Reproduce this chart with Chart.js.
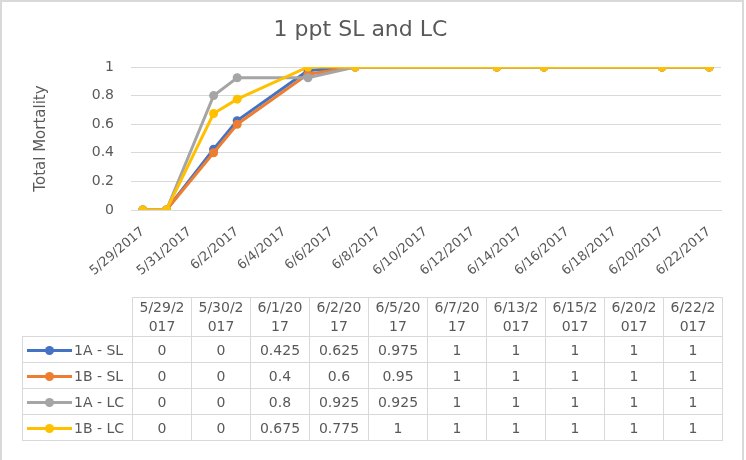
<!DOCTYPE html>
<html>
<head>
<meta charset="utf-8">
<script src="https://cdn.jsdelivr.net/npm/chart.js@4.4.0/dist/chart.umd.min.js"></script>
<style>
  body { margin: 0; background: #fff; }
  #frame { position: absolute; left: 0; top: 0; width: 744px; height: 480px; box-sizing: border-box; border: 2px solid #d9d9d9; }
  #myChart { position: absolute; left: 0; top: 0; }
  #dataTable { position: absolute; left: 22px; top: 297px; border-collapse: collapse; table-layout: fixed;
    font-family: "DejaVu Sans", sans-serif; font-size: 14px; color: #595959; }
  #dataTable td { border: 1px solid #d9d9d9; text-align: center; vertical-align: middle; padding: 0; height: 25px; }
  #dataTable tr.head td { height: 38px; line-height: 19px; }
  #dataTable td.blank { border: none; }
  #dataTable td.lgd { text-align: left; padding-left: 4px; white-space: nowrap; }
  .key { display: inline-block; position: relative; width: 45px; height: 3px; vertical-align: middle; margin-right: 2px; }
  .key span { position: absolute; left: 18px; top: -3px; width: 9px; height: 9px; border-radius: 50%; }
</style>
</head>
<body>
<div id="frame"></div>
<canvas id="myChart" width="746" height="460"></canvas>
<table id="dataTable"></table>

<script>
var dates = ["5/29/2017","5/30/2017","6/1/2017","6/2/2017","6/5/2017","6/7/2017","6/13/2017","6/15/2017","6/20/2017","6/22/2017"];
var seriesNames = ["1A - SL","1B - SL","1A - LC","1B - LC"];
var sl1A = [0, 0, 0.425, 0.625, 0.975, 1, 1, 1, 1, 1];
var sl1B = [0, 0, 0.4, 0.6, 0.95, 1, 1, 1, 1, 1];
var lc1A = [0, 0, 0.8, 0.925, 0.925, 1, 1, 1, 1, 1];
var lc1B = [0, 0, 0.675, 0.775, 1, 1, 1, 1, 1, 1];
var xTickLabels = ["5/29/2017","5/31/2017","6/2/2017","6/4/2017","6/6/2017","6/8/2017","6/10/2017","6/12/2017","6/14/2017","6/16/2017","6/18/2017","6/20/2017","6/22/2017"];
var yTicks = [0, 0.2, 0.4, 0.6, 0.8, 1];
var colors = ["#4472C4","#ED7D31","#A5A5A5","#FFC000"];

// days since first date, so the x axis acts like a date axis
function dayOf(s){
  var p = s.split("/");
  var t = Date.UTC(+p[2], +p[0]-1, +p[1]);
  var q = dates[0].split("/");
  return Math.round((t - Date.UTC(+q[2], +q[0]-1, +q[1])) / 86400000);
}
var xDays = dates.map(dayOf);
var tickDays = xTickLabels.map(dayOf);

var allSeries = [sl1A, sl1B, lc1A, lc1B];
var datasets = [];
for(var i=0; i<allSeries.length; i++){
  datasets.push({
    label: seriesNames[i],
    data: allSeries[i].map(function(v, k){ return {x: xDays[k], y: v}; }),
    borderColor: colors[i],
    backgroundColor: colors[i],
    borderWidth: 3,
    pointRadius: 4.5,
    pointBorderWidth: 0,
    order: allSeries.length - i,
    tension: 0
  });
}

Chart.defaults.font.family = "'DejaVu Sans', sans-serif";
Chart.defaults.color = "#595959";

var ctx = document.querySelector("#myChart").getContext("2d");
var lineChart = new Chart(ctx, {
  type: 'line',
  data: { datasets: datasets },
  options: {
    responsive: false,
    animation: false,
    layout: { padding: { left: 0, right: 25, top: 0, bottom: 170 } },
    plugins: {
      legend: { display: false },
      tooltip: { enabled: false },
      title: {
        display: true,
        text: "1 ppt SL and LC",
        color: "#595959",
        font: { size: 22, weight: 'normal' },
        padding: { top: 17, bottom: 23.6 }
      }
    },
    scales: {
      x: {
        type: 'linear',
        min: -0.5,
        max: 24.5,
        afterBuildTicks: function(scale){ scale.ticks = tickDays.map(function(d){ return {value: d}; }); },
        afterFit: function(scale){ scale.height = 80; },
        grid: { display: false, drawTicks: false },
        border: { display: true, color: "#d9d9d9", width: 1 },
        ticks: {
          autoSkip: false,
          minRotation: 40,
          maxRotation: 40,
          padding: 14,
          color: "#595959",
          font: { size: 13 },
          callback: function(v){ return xTickLabels[tickDays.indexOf(v)]; }
        }
      },
      y: {
        min: 0,
        max: 1,
        afterBuildTicks: function(scale){ scale.ticks = yTicks.map(function(v){ return {value: v}; }); },
        afterFit: function(scale){ scale.width = 131; },
        grid: { color: "#d9d9d9", drawTicks: false },
        border: { display: false },
        ticks: {
          padding: 17,
          color: "#595959",
          font: { size: 14 },
          callback: function(v){ return String(v); }
        },
        title: {
          display: true,
          text: "Total Mortality",
          color: "#595959",
          font: { size: 15 },
          padding: { top: 32.5, bottom: 0 }
        }
      }
    }
  }
});

// data table under the plot, built from the same arrays
var tbl = document.querySelector("#dataTable");
var html = '<colgroup><col style="width:110px">';
for(var c=0; c<dates.length; c++){ html += '<col style="width:59px">'; }
html += '</colgroup><tr class="head"><td class="blank"></td>';
for(var c=0; c<dates.length; c++){
  html += '<td>' + dates[c].slice(0,6) + '<br>' + dates[c].slice(6) + '</td>';
}
html += '</tr>';
for(var r=0; r<allSeries.length; r++){
  html += '<tr><td class="lgd"><span class="key" style="background:' + colors[r] + '"><span style="background:' + colors[r] + '"></span></span>' + seriesNames[r] + '</td>';
  for(var c=0; c<dates.length; c++){ html += '<td>' + allSeries[r][c] + '</td>'; }
  html += '</tr>';
}
tbl.innerHTML = html;
</script>
</body>
</html>
